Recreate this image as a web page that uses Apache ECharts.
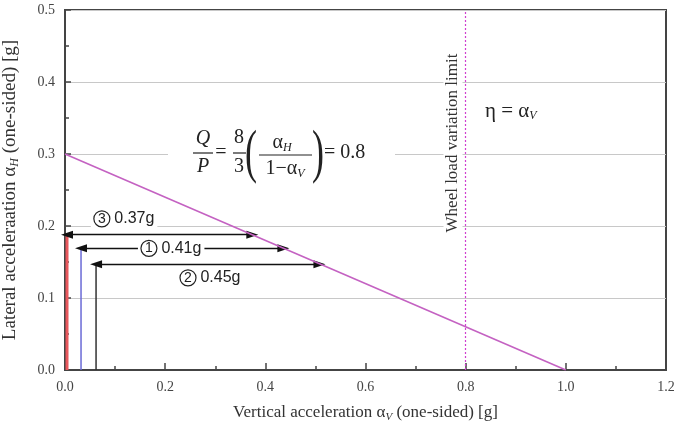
<!DOCTYPE html>
<html><head><meta charset="utf-8">
<script src="https://cdn.jsdelivr.net/npm/echarts@6/dist/echarts.min.js"></script>
<style>html,body{margin:0;padding:0;background:#fff}#c{width:676px;height:431px}</style>
</head><body><div id="c"></div>
<script>
// ---- data ----
const xTicks = [0, 0.2, 0.4, 0.6, 0.8, 1.0, 1.2];
const yTicks = [0, 0.1, 0.2, 0.3, 0.4, 0.5];
const qpLineX = [0, 1.0];
const qpLineY = [0.3, 0.0];
const limitX = 0.8;
// vertical acceleration cases: ③ (red), ① (blue), ② (black)
const caseNum = ['3', '1', '2'];
const caseAv = [0.004, 0.032, 0.062];
const caseAh = [0.188, 0.169, 0.147];
const caseEndX = [0.374, 0.436, 0.508];
const caseLabel = ['0.37g', '0.41g', '0.45g'];
const caseLabelX = [0.118, 0.212, 0.29];
const caseLabelY = [0.21, 0.169, 0.128];
const caseColor = ['#e8575c', '#6a6ad6', '#333333'];
const caseWidth = [3, 1.5, 1.5];

const serif = '"Liberation Serif","Times New Roman",serif';
const sans = '"Liberation Sans",Arial,sans-serif';
const chart = echarts.init(document.getElementById('c'));

const series = [];
series.push({
  type: 'line', data: qpLineX.map((x, i) => [x, qpLineY[i]]), symbol: 'none',
  lineStyle: { color: '#c462c2', width: 1.6 }, z: 5,
  markLine: {
    silent: true, symbol: 'none', label: { show: false }, z: 2,
    lineStyle: { type: [2, 2], color: '#d040d0', width: 1.2 },
    data: [{ xAxis: limitX }]
  }
});
caseAv.forEach((x, i) => {
  series.push({
    type: 'line', data: [[x, 0], [x, caseAh[i]]], symbol: 'none',
    lineStyle: { color: caseColor[i], width: caseWidth[i] }, z: 3,
    markLine: {
      silent: true, symbol: ['triangle', 'triangle'], symbolSize: [8, 12], z: 4,
      label: { show: false },
      lineStyle: { type: 'solid', color: '#111', width: 1.4 },
      data: [[{ coord: [x, caseAh[i]] }, { coord: [caseEndX[i], caseAh[i]] }]]
    }
  });
});

const F = 20;
const txt = (x, y, text, opt) => Object.assign({
  type: 'text', x: x, y: y, z: 100,
  style: Object.assign({ text: text, font: F + 'px ' + serif, fill: '#222', align: 'center', verticalAlign: 'middle' }, opt || {})
});
const bar = (x1, x2, y) => ({ type: 'line', z: 100, shape: { x1: x1, y1: y, x2: x2, y2: y }, style: { stroke: '#222', lineWidth: 1.2 } });
const subRich = (main) => ({
  n: { font: main + 'px ' + serif, fill: '#222' },
  s: { font: 'italic 12px ' + serif, fill: '#222', verticalAlign: 'bottom', padding: [9, 0, 0, 0] }
});

const graphics = [
  { type: 'rect', z: 90, shape: { x: 168, y: 150, width: 227, height: 9 }, style: { fill: '#fff' } },
  txt(203, 139, 'Q', { font: 'italic ' + F + 'px ' + serif }),
  bar(193, 213, 153),
  txt(203, 167, 'P', { font: 'italic ' + F + 'px ' + serif }),
  txt(221, 153, '='),
  txt(239, 138, '8'),
  bar(233, 246, 153),
  txt(239, 167, '3'),
  { type: 'text', x: 251, y: 155, z: 100, scaleY: 1.65,
    style: { text: '(', font: '36px ' + serif, fill: '#222', align: 'center', verticalAlign: 'middle' } },
  { type: 'text', x: 282, y: 143, z: 100, style: { text: '{n|α}{s|H}', align: 'center', verticalAlign: 'middle', rich: subRich(F) } },
  bar(259, 312, 155),
  { type: 'text', x: 285, y: 169, z: 100, style: { text: '{n|1−α}{s|V}', align: 'center', verticalAlign: 'middle', rich: subRich(F) } },
  { type: 'text', x: 318, y: 155, z: 100, scaleY: 1.65,
    style: { text: ')', font: '36px ' + serif, fill: '#222', align: 'center', verticalAlign: 'middle' } },
  txt(324, 153, '= 0.8', { align: 'left' }),
  { type: 'text', x: 453, y: 143, z: 100, rotation: Math.PI / 2,
    style: { text: 'Wheel load variation limit', font: '17px ' + serif, fill: '#333', align: 'center', verticalAlign: 'middle',
             backgroundColor: '#fff', padding: [1, 2] } },
  { type: 'text', x: 485, y: 111, z: 100, style: { text: '{n|η = α}{s|V}', align: 'left', verticalAlign: 'middle', rich: subRich(21) } }
];

chart.setOption({
  animation: false,
  backgroundColor: '#fff',
  grid: { left: 65, right: 10, top: 10, bottom: 61, show: true, borderColor: '#444', borderWidth: 2,
          containLabel: false, outerBoundsMode: 'none' },
  xAxis: {
    type: 'value', min: 0, max: 1.2, interval: 0.2,
    name: '{n|Vertical acceleration α}{s|V}{n| (one-sided) [g]}', nameLocation: 'middle', nameGap: 33,
    nameTextStyle: { rich: {
      n: { fontFamily: serif, fontSize: 17, color: '#333', lineHeight: 20 },
      s: { fontFamily: serif, fontSize: 11, fontStyle: 'italic', color: '#333', verticalAlign: 'bottom', lineHeight: 11, padding: [9, 0, 0, 0] } } },
    axisLine: { lineStyle: { color: '#444', width: 2 } },
    axisTick: { inside: true, length: 7, lineStyle: { color: '#444', width: 1.5 } },
    minorTick: { show: true, splitNumber: 2, length: 4, lineStyle: { color: '#444', width: 1.5 } },
    splitLine: { show: false },
    axisLabel: { margin: 10, fontFamily: serif, fontSize: 14, color: '#444', formatter: v => v.toFixed(1) }
  },
  yAxis: {
    type: 'value', min: 0, max: 0.5, interval: 0.1,
    name: '{n|Lateral acceleraation α}{s|H}{n| (one-sided) [g]}', nameLocation: 'middle', nameGap: 44, nameRotate: 90,
    nameTextStyle: { rich: {
      n: { fontFamily: serif, fontSize: 19, color: '#333', lineHeight: 22 },
      s: { fontFamily: serif, fontSize: 12, fontStyle: 'italic', color: '#333', verticalAlign: 'bottom', lineHeight: 12, padding: [10, 0, 0, 0] } } },
    axisLine: { lineStyle: { color: '#444', width: 2 } },
    axisTick: { inside: true, length: 6, lineStyle: { color: '#444', width: 1.5 } },
    minorTick: { show: true, splitNumber: 2, length: 4, lineStyle: { color: '#444', width: 1.5 } },
    splitLine: { show: true, lineStyle: { color: '#c8c8c8', width: 1.2 } },
    axisLabel: { margin: 10, fontFamily: serif, fontSize: 14, color: '#444', formatter: v => v.toFixed(1) }
  },
  series: series,
  graphic: graphics
});

// case labels placed at data coordinates, drawn on top of arrows
caseLabelX.forEach((x, i) => {
  const p = chart.convertToPixel({ gridIndex: 0 }, [x, caseLabelY[i]]);
  graphics.push({
    type: 'text', x: p[0], y: p[1], z: 120,
    style: {
      text: '{c|' + caseNum[i] + '}{t| ' + caseLabel[i] + '}', align: 'center', verticalAlign: 'middle',
      backgroundColor: '#fff', padding: [2, 3],
      rich: {
        c: { width: 16, height: 16, borderRadius: 9, borderWidth: 1.2, borderColor: '#222', align: 'center',
             font: '14px ' + sans, lineHeight: 17, fill: '#222' },
        t: { font: '16px ' + sans, fill: '#222' }
      }
    }
  });
});
chart.setOption({ graphic: graphics });
</script></body></html>
